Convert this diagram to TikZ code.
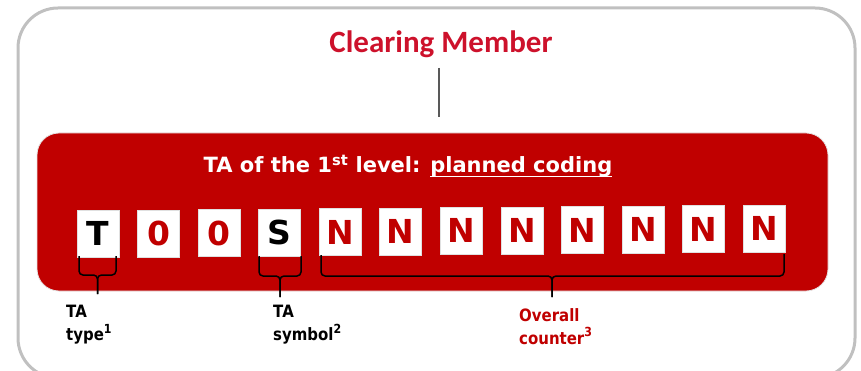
\documentclass[tikz,border=0pt]{standalone}
\usepackage{fontspec}
\setmainfont{DejaVu Sans}
\newfontfamily\carlitofont{Carlito}
\newfontfamily\condfont[FakeStretch=0.88]{DejaVu Sans}
\usetikzlibrary{calc}
\definecolor{cmred}{RGB}{205,17,43}
\definecolor{boxred}{RGB}{192,0,0}
\definecolor{frame}{RGB}{192,192,192}
\newlength\ulw
\newcommand\myul[1]{\settowidth\ulw{#1}\rlap{\rule[-4.5pt]{\ulw}{1.4pt}}#1}
\newcommand\supn[2]{\raisebox{#1}{\fontsize{12.5}{12.5}\selectfont #2}}
\begin{document}
\begin{tikzpicture}[x=1pt,y=-1pt,
  cell/.style={fill=white, draw=black!12, line width=0.6pt, minimum width=42pt,
    minimum height=47pt, inner sep=0pt, text height=24pt, text depth=0pt,
    font=\fontsize{33}{33}\selectfont\bfseries},
  brc/.style={line width=1.5pt, black, rounded corners=4pt},
  lbl/.style={anchor=north west, inner sep=0pt, align=left,
    font=\condfont\fontsize{17}{23}\selectfont\bfseries}]
\useasboundingbox (0,0) rectangle (861,371);
% outer frame
\draw[frame, line width=3pt, rounded corners=40pt] (18,8) rectangle (855,378);
% title
\node[anchor=base, inner sep=0pt, text=cmred,
  font=\carlitofont\fontsize{31}{31}\selectfont\bfseries] (cm) at (441,53) {Clearing Member};
\coordinate (l1) at (439,68);
\coordinate (l2) at (439,117);
\draw[black!65, line width=1.4pt] (l1) -- (l2);
% red box
\node[fill=boxred, draw=black!10, line width=0.8pt, rounded corners=22pt,
  minimum width=791pt, minimum height=158pt, inner sep=0pt] (rb) at (432.5,212) {};
\node[anchor=base, inner sep=0pt, text=white,
  font=\fontsize{21}{21}\selectfont\bfseries] (ta) at (408,173)
  {TA of the 1\textsuperscript{st} level: \myul{planned coding}};
% cells
\foreach \ch/\col [count=\i from 0] in {T/black,0/boxred,0/boxred,S/black,N/boxred,N/boxred,N/boxred,N/boxred,N/boxred,N/boxred,N/boxred,N/boxred}{
  \node[cell, text=\col] (c\i) at ({98+60.55*\i},{234-0.5*\i}) {\ch};
}
% braces
\coordinate (a1) at (79,256);  \coordinate (a2) at (116,256);
\coordinate (am) at (97.5,275); \coordinate (at) at (97.5,294);
\draw[brc] (a1) |- (am) -- (at);
\draw[brc] (a2) |- (am) -- (at);
\coordinate (b1) at (259,256);  \coordinate (b2) at (301,256);
\coordinate (bm) at (280,276); \coordinate (bt) at (280,297);
\draw[brc] (b1) |- (bm) -- (bt);
\draw[brc] (b2) |- (bm) -- (bt);
\coordinate (d1) at (321,255);  \coordinate (d2) at (784,254);
\coordinate (dm) at (552,276); \coordinate (dt) at (552,297);
\draw[brc] (d1) |- (dm) -- (dt);
\draw[brc] (d2) |- (dm) -- (dt);
% labels
\node[lbl] (ltype) at (66,305) {TA\\type\supn{7pt}{1}};
\node[lbl] (lsym) at (273,305) {TA\\symbol\supn{7pt}{2}};
\node[lbl, text=boxred] (lcnt) at (519,308) {Overall\\counter\supn{8pt}{3}};
\end{tikzpicture}
\end{document}
